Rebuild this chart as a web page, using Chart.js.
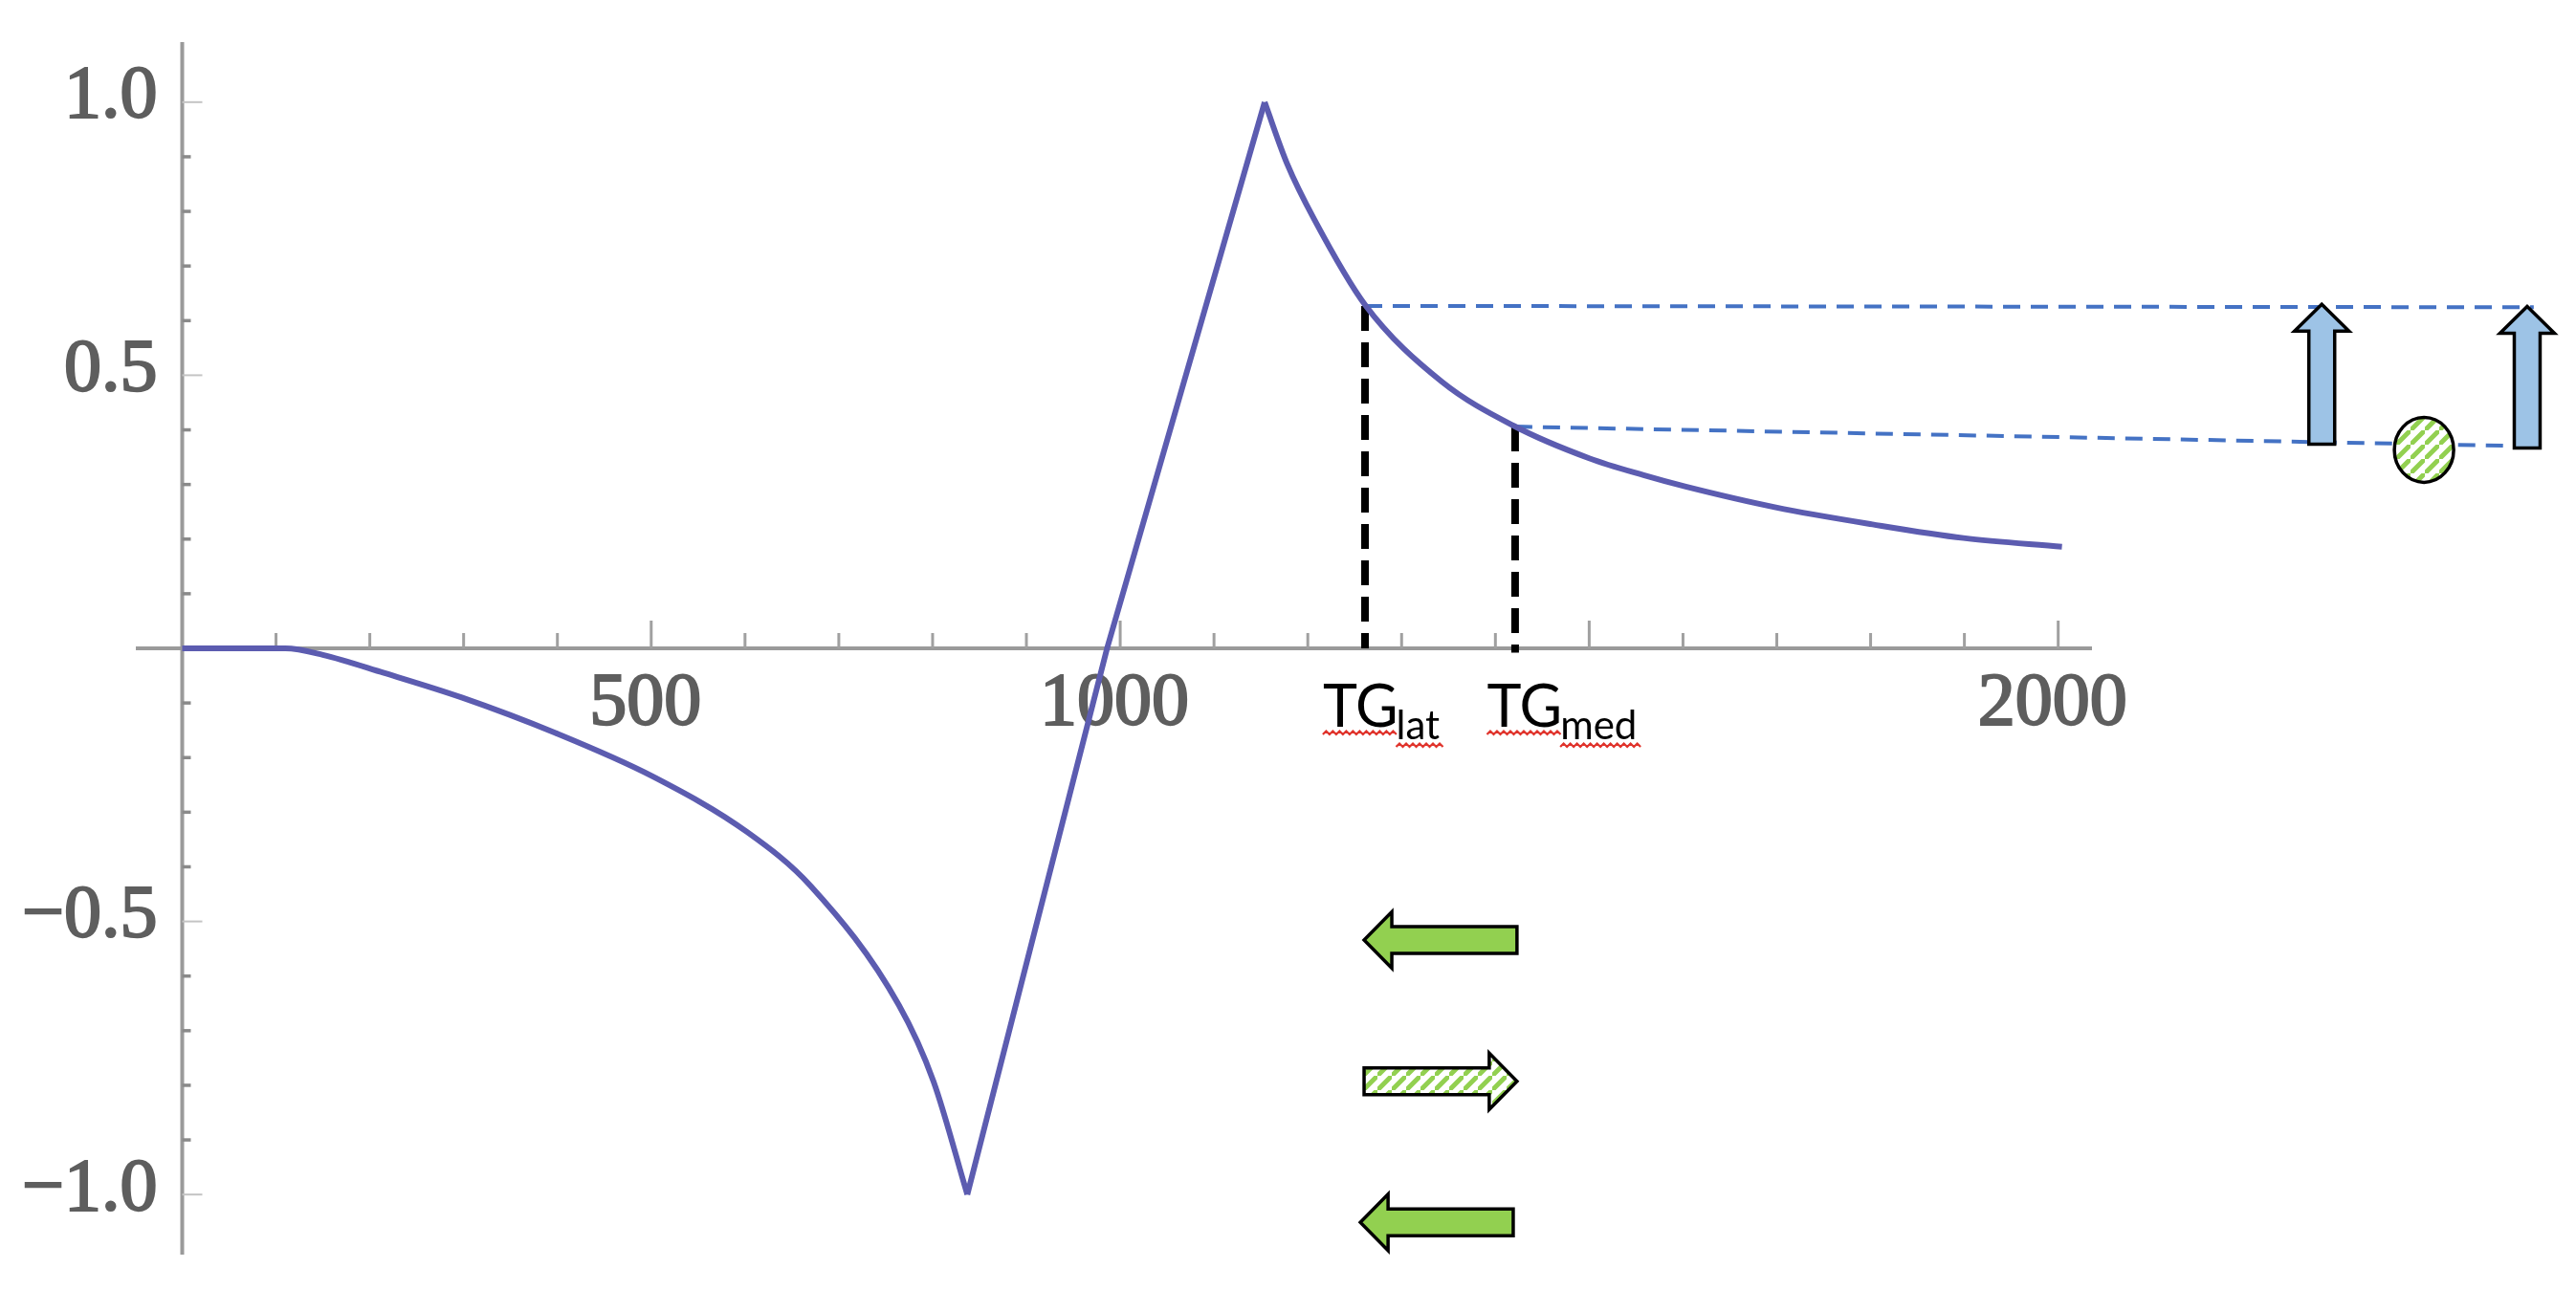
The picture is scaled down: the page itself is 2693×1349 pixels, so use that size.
<!DOCTYPE html>
<html>
<head>
<meta charset="utf-8">
<script src="https://cdn.jsdelivr.net/npm/chart.js@4/dist/chart.umd.min.js"></script>
<style>
html,body{margin:0;padding:0;background:#ffffff;}
#wrap{width:2693px;height:1349px;position:relative;}
</style>
</head>
<body>
<div id="wrap"><canvas id="c"></canvas></div>
<script>
// ---------- data ----------
// left branch: flat start, then descending to the lower cusp
const leftX = [0, 60, 110, 150, 215, 298, 398, 501, 602, 670, 764, 801, 837];
const leftY = [0, 0, 0, -0.012, -0.045, -0.09, -0.155, -0.234, -0.336, -0.435, -0.653, -0.793, -1.0];
// steep rising segment between the two cusps
const riseX = [837, 986, 1154];
const riseY = [-1.0, 0, 1.0];
// decaying branch after the upper cusp
const decayX = [1154, 1178, 1207, 1261, 1343, 1420, 1500, 1558, 1603, 1699, 1802, 1899, 2004];
const decayY = [1.0, 0.887, 0.785, 0.629, 0.488, 0.407, 0.348, 0.317, 0.296, 0.258, 0.227, 0.202, 0.186];

// guide lines: TG_lat and TG_med positions and the values they reach
const tgNames = ['lat', 'med'];
const tgX = [1261, 1421];
const tgY = [0.627, 0.406];
const guideEndX = 2507;
const guideEndY = [0.6245, 0.370];

// tick labels
const xTickLabels = [500, 1000, 2000];
const yTickLabels = [-1.0, -0.5, 0.5, 1.0];
const xTickMarks = [100,200,300,400,500,600,700,800,900,1000,1100,1200,1300,1400,1500,1600,1700,1800,1900,2000];
const yTickMarks = [-1.0,-0.9,-0.8,-0.7,-0.6,-0.5,-0.4,-0.3,-0.2,-0.1,0.1,0.2,0.3,0.4,0.5,0.6,0.7,0.8,0.9,1.0];

// annotation symbols (data coordinates)
const upArrowX = [2281, 2500];
const upArrowTop = [0.6298, 0.626];
const upArrowBottom = [0.374, 0.367];
const circleAt = {x: 2390, y: 0.3635};
const sideArrowTail = [1423, 1260, 1419];
const sideArrowTip = [1260, 1423, 1256];
const sideArrowY = [-0.534, -0.7927, -1.051];
const sideArrowHatched = [false, true, false];
const labelX = [1216, 1391];
const labelY = -0.1436;

// ---------- helpers ----------
const pts = (xs, ys) => xs.map((x, i) => ({x: x, y: ys[i]}));
const CURVE = '#5c5cb0';

function blockArrow(ctx, x0, y0, x1, y1, shaftHalf, headHalf, headLen) {
  const dx = x1 - x0, dy = y1 - y0, L = Math.hypot(dx, dy);
  const ux = dx / L, uy = dy / L, nx = -uy, ny = ux;
  const bx = x1 - ux * headLen, by = y1 - uy * headLen;
  ctx.beginPath();
  ctx.moveTo(x0 + nx * shaftHalf, y0 + ny * shaftHalf);
  ctx.lineTo(bx + nx * shaftHalf, by + ny * shaftHalf);
  ctx.lineTo(bx + nx * headHalf, by + ny * headHalf);
  ctx.lineTo(x1, y1);
  ctx.lineTo(bx - nx * headHalf, by - ny * headHalf);
  ctx.lineTo(bx - nx * shaftHalf, by - ny * shaftHalf);
  ctx.lineTo(x0 - nx * shaftHalf, y0 - ny * shaftHalf);
  ctx.closePath();
}

function hatchPattern(ctx) {
  const s = 15;
  const c = document.createElement('canvas');
  c.width = s; c.height = s;
  const g = c.getContext('2d');
  g.fillStyle = '#ffffff';
  g.fillRect(0, 0, s, s);
  g.strokeStyle = '#92D050';
  g.lineWidth = 5;
  g.beginPath();
  g.moveTo(-3, s + 3); g.lineTo(s + 3, -3);
  g.moveTo(-s - 3, 3); g.lineTo(3, -s - 3);
  g.moveTo(-3 + s, 2 * s + 3); g.lineTo(2 * s + 3, s - 3);
  g.stroke();
  return ctx.createPattern(c, 'repeat');
}

function squiggle(ctx, xa, xb, y) {
  ctx.save();
  ctx.strokeStyle = '#e0332b';
  ctx.lineWidth = 2.2;
  ctx.beginPath();
  let up = true;
  ctx.moveTo(xa, y);
  for (let xx = xa + 3.5; xx <= xb; xx += 3.5) {
    ctx.lineTo(xx, up ? y - 3.5 : y);
    up = !up;
  }
  ctx.stroke();
  ctx.restore();
}

// ---------- plugins ----------
const axisMarks = {
  id: 'axisMarks',
  beforeDatasetsDraw(chart) {
    const {ctx, chartArea, scales: {x, y}} = chart;
    const x0 = x.getPixelForValue(0);
    const y0 = y.getPixelForValue(0);
    ctx.save();
    // vertical axis line
    ctx.strokeStyle = '#9a9a9a';
    ctx.lineWidth = 4;
    ctx.beginPath();
    ctx.moveTo(x0, chartArea.top);
    ctx.lineTo(x0, chartArea.bottom);
    ctx.stroke();
    // x tick marks (pointing up)
    ctx.strokeStyle = '#a0a0a0';
    ctx.lineWidth = 3;
    xTickMarks.forEach(v => {
      const px = x.getPixelForValue(v);
      const len = (v % 500 === 0) ? 29 : 16;
      ctx.beginPath();
      ctx.moveTo(px, y0);
      ctx.lineTo(px, y0 - len);
      ctx.stroke();
    });
    // y tick marks (pointing right)
    yTickMarks.forEach(v => {
      const py = y.getPixelForValue(v);
      const major = Math.abs(Math.round(v * 10)) % 5 === 0;
      ctx.strokeStyle = major ? '#c4c4c4' : '#8a8a8a';
      ctx.lineWidth = major ? 2 : 3.5;
      ctx.beginPath();
      ctx.moveTo(x0, py);
      ctx.lineTo(x0 + (major ? 21 : 9), py);
      ctx.stroke();
    });
    ctx.restore();
  }
};

const notes = {
  id: 'notes',
  afterDatasetsDraw(chart) {
    const {ctx, scales: {x, y}} = chart;
    ctx.save();
    const hatch = hatchPattern(ctx);
    ctx.lineJoin = 'miter';

    // blue up arrows
    upArrowX.forEach((v, i) => {
      const px = x.getPixelForValue(v);
      blockArrow(ctx, px, y.getPixelForValue(upArrowBottom[i]), px, y.getPixelForValue(upArrowTop[i]), 13.5, 28.5, 28);
      ctx.fillStyle = '#9DC3E6';
      ctx.fill();
      ctx.strokeStyle = '#000';
      ctx.lineWidth = 3.5;
      ctx.stroke();
    });

    // hatched circle
    ctx.beginPath();
    ctx.ellipse(x.getPixelForValue(circleAt.x), y.getPixelForValue(circleAt.y), 31, 34, 0, 0, Math.PI * 2);
    ctx.fillStyle = hatch;
    ctx.fill();
    ctx.strokeStyle = '#000';
    ctx.lineWidth = 3.5;
    ctx.stroke();

    // green horizontal arrows
    sideArrowY.forEach((v, i) => {
      const py = y.getPixelForValue(v);
      blockArrow(ctx, x.getPixelForValue(sideArrowTail[i]), py, x.getPixelForValue(sideArrowTip[i]), py, 14, 29.5, 29);
      ctx.fillStyle = sideArrowHatched[i] ? hatch : '#92D050';
      ctx.fill();
      ctx.strokeStyle = '#000';
      ctx.lineWidth = 3.5;
      ctx.stroke();
    });

    // TG labels with subscripts
    const by = y.getPixelForValue(labelY);
    tgNames.forEach((sub, i) => {
      const px = x.getPixelForValue(labelX[i]);
      ctx.fillStyle = '#000';
      ctx.textBaseline = 'alphabetic';
      ctx.textAlign = 'left';
      ctx.font = '61px Lato';
      ctx.fillText('TG', px, by);
      const w = ctx.measureText('TG').width;
      ctx.font = '42px Lato';
      const sx = px + w - 2;
      ctx.fillText(sub, sx, by + 13);
      const sw = ctx.measureText(sub).width;
      squiggle(ctx, px, px + w, by + 8);
      squiggle(ctx, sx, sx + sw + 4, by + 21);
    });
    ctx.restore();
  }
};

// ---------- chart ----------
const curveStyle = {borderColor: CURVE, borderWidth: 6, pointRadius: 0, fill: false};

new Chart(document.getElementById('c'), {
  type: 'line',
  data: {
    datasets: [
      Object.assign({label: 'left', data: pts(leftX, leftY), cubicInterpolationMode: 'monotone'}, curveStyle),
      Object.assign({label: 'rise', data: pts(riseX, riseY), tension: 0}, curveStyle),
      Object.assign({label: 'decay', data: pts(decayX, decayY), cubicInterpolationMode: 'monotone'}, curveStyle),
      {label: 'guide lat', data: [{x: tgX[0], y: tgY[0]}, {x: guideEndX, y: guideEndY[0]}],
       borderColor: '#4472C4', borderWidth: 4, borderDash: [18, 11], pointRadius: 0, clip: false, tension: 0},
      {label: 'guide med', data: [{x: tgX[1], y: tgY[1]}, {x: guideEndX, y: guideEndY[1]}],
       borderColor: '#4472C4', borderWidth: 4, borderDash: [18, 11], pointRadius: 0, clip: false, tension: 0},
      {label: 'TG lat', data: [{x: tgX[0], y: tgY[0]}, {x: tgX[0], y: 0}],
       borderColor: '#000000', borderWidth: 8, borderDash: [26, 12], pointRadius: 0, clip: false, tension: 0},
      {label: 'TG med', data: [{x: tgX[1], y: tgY[1]}, {x: tgX[1], y: -0.008}],
       borderColor: '#000000', borderWidth: 8, borderDash: [26, 12], pointRadius: 0, clip: false, tension: 0}
    ]
  },
  options: {
    responsive: true,
    maintainAspectRatio: false,
    animation: false,
    layout: {padding: {left: 144.4, right: 507, top: 44, bottom: 37}},
    plugins: {legend: {display: false}, tooltip: {enabled: false}},
    scales: {
      x: {
        type: 'linear', min: -47, max: 2035, position: {y: 0},
        grid: {display: false, drawTicks: false},
        border: {display: true, color: '#9a9a9a', width: 4},
        afterBuildTicks: s => { s.ticks = xTickLabels.map(v => ({value: v})); },
        ticks: {autoSkip: false, maxRotation: 0, minRotation: 0, padding: 12, labelOffset: -6,
                color: '#5e5e5e', textStrokeColor: '#5e5e5e', textStrokeWidth: 2.2,
                font: {family: 'Liberation Serif', size: 78}, callback: v => String(v)}
      },
      y: {
        type: 'linear', min: -1.11, max: 1.11, position: {x: -26.5},
        grid: {display: false, drawTicks: false},
        border: {display: false},
        afterBuildTicks: s => { s.ticks = yTickLabels.map(v => ({value: v})); },
        ticks: {autoSkip: false, padding: 0, labelOffset: -5,
                color: '#5e5e5e', textStrokeColor: '#5e5e5e', textStrokeWidth: 2.2,
                font: {family: 'Liberation Serif', size: 78, lineHeight: 0.9},
                callback: v => (v < 0 ? '\u2212' : '') + Math.abs(v).toFixed(1)}
      }
    }
  },
  plugins: [axisMarks, notes]
});
</script>
</body>
</html>
